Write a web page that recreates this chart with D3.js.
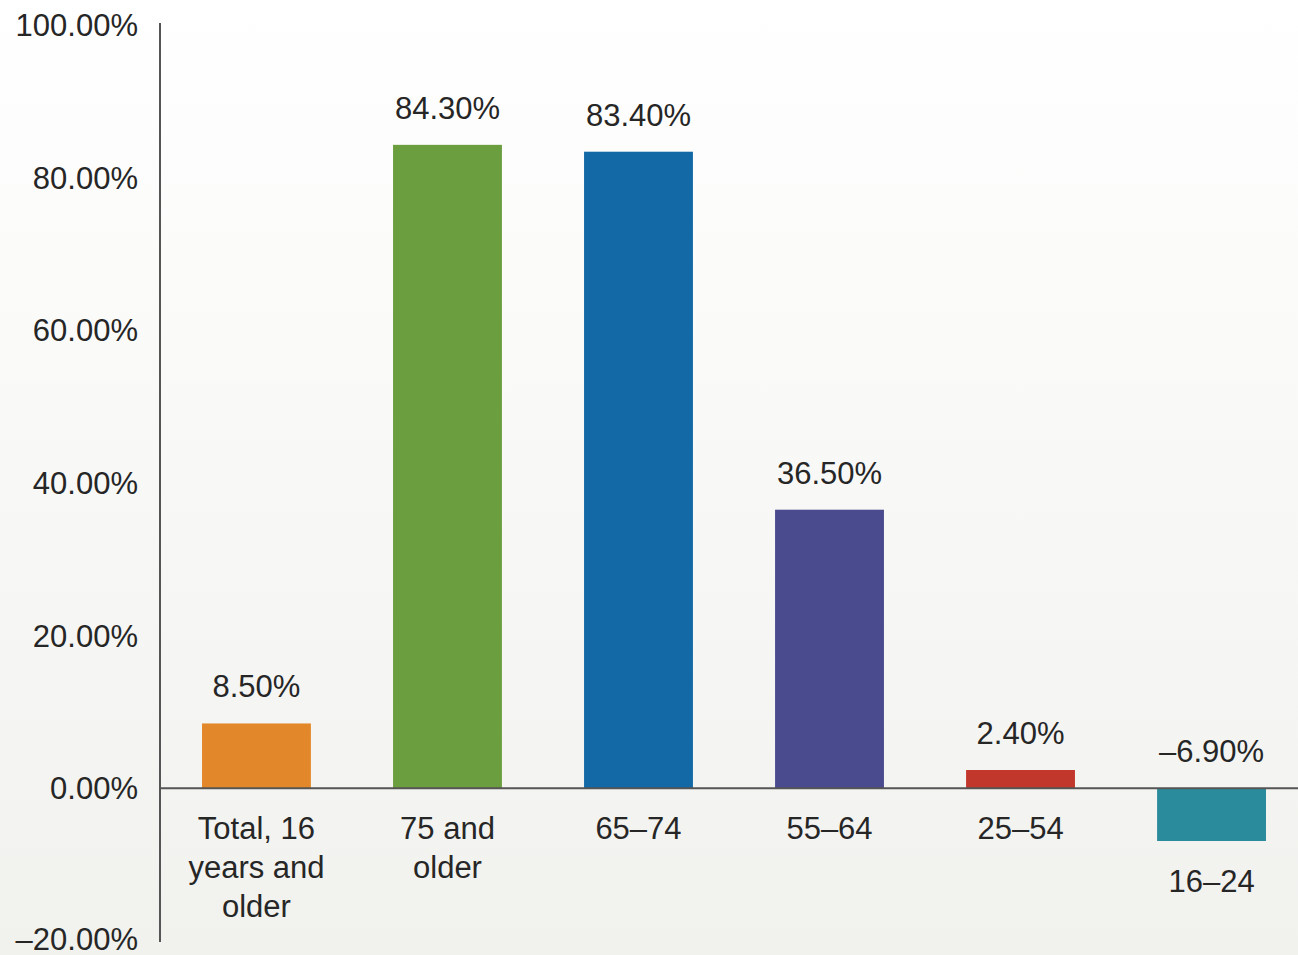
<!DOCTYPE html>
<html>
<head>
<meta charset="utf-8">
<script src="https://cdn.jsdelivr.net/npm/d3@7"></script>
<style>
  html, body { margin: 0; padding: 0; }
  body { width: 1298px; height: 955px; overflow: hidden; }
  text { font-family: "Liberation Sans", Arial, sans-serif; fill: #262626; }
</style>
</head>
<body>
<script>
var categories = ["Total, 16 years and older", "75 and older", "65–74", "55–64", "25–54", "16–24"],
    catLines = [["Total, 16", "years and", "older"], ["75 and", "older"], ["65–74"], ["55–64"], ["25–54"], ["16–24"]],
    values = [8.5, 84.3, 83.4, 36.5, 2.4, -6.9],
    valueLabels = ["8.50%", "84.30%", "83.40%", "36.50%", "2.40%", "–6.90%"],
    colors = ["#e3882a", "#6b9e3e", "#1368a6", "#4a4a8e", "#c2372b", "#2a8b9c"],
    yTicks = [-20, 0, 20, 40, 60, 80, 100],
    width = 1298, height = 955, svg, defs, grad, x, y, fontSize = 31;

svg = d3.select("body").append("svg").attr("width", width).attr("height", height);

defs = svg.append("defs");
grad = defs.append("linearGradient").attr("id", "bg").attr("x1", 0).attr("y1", 0).attr("x2", 0).attr("y2", 1);
grad.append("stop").attr("offset", "0%").attr("stop-color", "#ffffff");
grad.append("stop").attr("offset", "100%").attr("stop-color", "#f1f1ee");
svg.append("rect").attr("width", width).attr("height", height).attr("fill", "url(#bg)");

y = d3.scaleLinear().domain([-20, 100]).range([941, 25]);
x = d3.scaleBand().domain(categories).range([160, 1308]).paddingInner(0.43).paddingOuter(0.22);

// y tick labels (no tick marks)
svg.append("g").selectAll("text").data(yTicks).enter().append("text")
  .attr("x", 138)
  .attr("y", function (d) { return Math.min(y(d), 939); })
  .attr("dy", "0.36em")
  .attr("text-anchor", "end")
  .style("font-size", fontSize + "px")
  .text(function (d) { return (d < 0 ? "–" + Math.abs(d).toFixed(2) : d.toFixed(2)) + "%"; });

// bars
svg.append("g").selectAll("rect").data(values).enter().append("rect")
  .attr("x", function (d, i) { return x(categories[i]); })
  .attr("width", x.bandwidth())
  .attr("y", function (d) { return y(Math.max(0, d)); })
  .attr("height", function (d) { return Math.abs(y(d) - y(0)); })
  .attr("fill", function (d, i) { return colors[i]; });

// axis lines
svg.append("line").attr("x1", 160).attr("x2", 160).attr("y1", y(100) - 2).attr("y2", y(-20) + 1)
  .attr("stroke", "#555").attr("stroke-width", 2);
svg.append("line").attr("x1", 160).attr("x2", width).attr("y1", y(0)).attr("y2", y(0))
  .attr("stroke", "#555").attr("stroke-width", 2);

// value labels
svg.append("g").selectAll("text").data(values).enter().append("text")
  .attr("x", function (d, i) { return x(categories[i]) + x.bandwidth() / 2; })
  .attr("y", function (d) { return y(Math.max(0, d)) - 26; })
  .attr("text-anchor", "middle")
  .style("font-size", fontSize + "px")
  .text(function (d, i) { return valueLabels[i]; });

// category labels
var cat = svg.append("g").selectAll("text").data(values).enter().append("text")
  .attr("text-anchor", "middle")
  .style("font-size", fontSize + "px")
  .attr("transform", function (d, i) {
    return "translate(" + (x(categories[i]) + x.bandwidth() / 2) + "," + (y(Math.min(0, d)) + 51) + ")";
  });
cat.selectAll("tspan").data(function (d, i) { return catLines[i]; }).enter().append("tspan")
  .attr("x", 0)
  .attr("y", function (d, j) { return j * 39; })
  .text(function (d) { return d; });
</script>
</body>
</html>
